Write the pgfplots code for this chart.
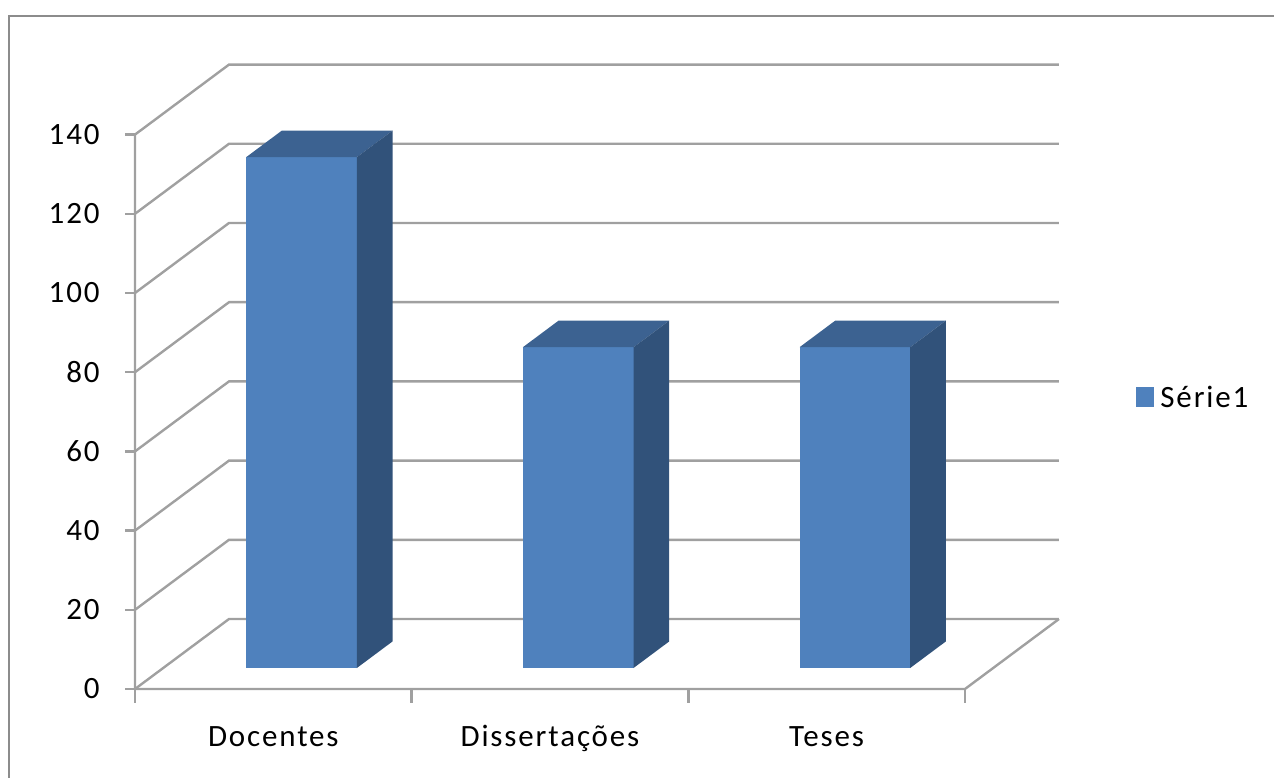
\documentclass[border=0pt]{standalone}
\usepackage{fontspec}
\setmainfont{Carlito}[LetterSpace=6]
\usepackage{pgfplots}
\pgfplotsset{compat=1.18}
\definecolor{barfront}{HTML}{4F81BD}
\definecolor{bartop}{HTML}{3C6291}
\definecolor{barside}{HTML}{31527A}
\definecolor{gridc}{HTML}{A0A0A0}
\definecolor{framec}{HTML}{8C8C8C}
\begin{document}
\begin{tikzpicture}[font=\fontsize{15.5}{18}\selectfont]
\begin{axis}[
  hide axis, clip=false,
  x={(138.33pt,0pt)}, y={(47pt,35pt)}, z={(0pt,1.98pt)},
  xmin=0,xmax=3,ymin=0,ymax=1,zmin=0,zmax=140,
  every axis plot/.append style={mark=none},
]
% back wall / side wall gridlines
\pgfplotsinvokeforeach{0,20,...,140}{
  \addplot3[gridc, line width=1.2pt] coordinates {(0,0,#1) (0,1,#1) (3,1,#1)};
  \addplot3[gridc, line width=1.2pt] coordinates {(-0.036,0,#1) (0,0,#1)};
  \node[anchor=east, inner sep=0pt] at (axis cs:-0.1265,0,#1) {#1};
}
% front axis and floor
\addplot3[gridc, line width=1.2pt] coordinates {(0,0,140) (0,0,0) (3,0,0) (3,1,0)};
\pgfplotsinvokeforeach{0,1,2,3}{
  \addplot3[gridc, line width=1.2pt] coordinates {(#1,0,0) (#1,0,-3.5)};
}
% Docentes = 129
\addplot3[fill=barfront, draw=none] coordinates {(0.3,0.3,0) (0.7,0.3,0) (0.7,0.3,129) (0.3,0.3,129)};
\addplot3[fill=bartop, draw=none] coordinates {(0.3,0.3,129) (0.7,0.3,129) (0.7,0.68,129) (0.3,0.68,129)};
\addplot3[fill=barside, draw=none] coordinates {(0.7,0.3,0) (0.7,0.68,0) (0.7,0.68,129) (0.7,0.3,129)};
% Dissertacoes = 81
\addplot3[fill=barfront, draw=none] coordinates {(1.3,0.3,0) (1.7,0.3,0) (1.7,0.3,81) (1.3,0.3,81)};
\addplot3[fill=bartop, draw=none] coordinates {(1.3,0.3,81) (1.7,0.3,81) (1.7,0.68,81) (1.3,0.68,81)};
\addplot3[fill=barside, draw=none] coordinates {(1.7,0.3,0) (1.7,0.68,0) (1.7,0.68,81) (1.7,0.3,81)};
% Teses = 81
\addplot3[fill=barfront, draw=none] coordinates {(2.3,0.3,0) (2.7,0.3,0) (2.7,0.3,81) (2.3,0.3,81)};
\addplot3[fill=bartop, draw=none] coordinates {(2.3,0.3,81) (2.7,0.3,81) (2.7,0.68,81) (2.3,0.68,81)};
\addplot3[fill=barside, draw=none] coordinates {(2.7,0.3,0) (2.7,0.68,0) (2.7,0.68,81) (2.7,0.3,81)};
% category labels
\node[anchor=base] at (axis cs:0.5,0,-14.6) {Docentes};
\node[anchor=base] at (axis cs:1.5,0,-14.6) {Dissertações};
\node[anchor=base] at (axis cs:2.5,0,-14.6) {Teses};
% legend
\node[fill=barfront, minimum width=9pt, minimum height=10pt, inner sep=0pt, anchor=south west] at (axis cs:3.618,0,71) {};
\node[anchor=base west, inner sep=0pt] at (axis cs:3.705,0,71) {Série1};
\coordinate (O) at (axis cs:0,0,0);
\end{axis}
\pgfresetboundingbox
\path[use as bounding box] (O) ++(-67.5pt,-44pt) rectangle ++(637pt,388.5pt);
\draw[framec, line width=1pt] (O) ++(-63pt,-55pt) rectangle ++(643pt,391.5pt);
\end{tikzpicture}
\end{document}
